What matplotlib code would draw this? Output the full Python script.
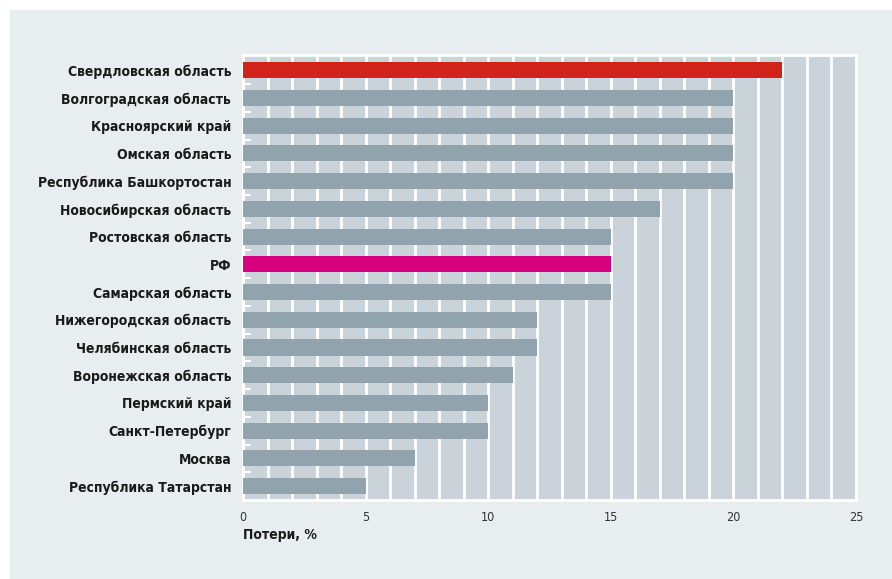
import matplotlib.pyplot as plt
import matplotlib.patches as patches
import numpy as np

regions = ["Свердловская область", "Волгоградская область", "Красноярский край",
           "Омская область", "Республика Башкортостан", "Новосибирская область",
           "Ростовская область", "РФ", "Самарская область", "Нижегородская область",
           "Челябинская область", "Воронежская область", "Пермский край",
           "Санкт-Петербург", "Москва", "Республика Татарстан"]
losses = [22, 20, 20, 20, 20, 17, 15, 15, 15, 12, 12, 11, 10, 10, 7, 5]
xticks = [0, 5, 10, 15, 20, 25]

BG = "#e8edf0"
PLOT_BG = "#cbd3da"
BAR = "#91a3ac"
colors = []
for r in regions:
    if r == "Свердловская область":
        colors.append("#d2231b")
    elif r == "РФ":
        colors.append("#d9007f")
    else:
        colors.append(BAR)

fig = plt.figure(figsize=(8.92, 5.79), dpi=100)
fig.patches.append(patches.Rectangle((10 / 892, 0), 1, 1 - 10 / 579,
                                     transform=fig.transFigure, facecolor=BG,
                                     edgecolor="none", zorder=-10))
ax = fig.add_axes([243 / 892, 1 - 500 / 579, 613 / 892, 445 / 579])
ax.set_facecolor(PLOT_BG)

y = np.arange(len(regions))
ax.barh(y, losses, height=0.58, color=colors, zorder=3)

ax.set_xlim(0, 25)
ax.set_ylim(15.5, -0.55)
ax.set_xticks(xticks)
ax.set_xticks(np.arange(0, 26), minor=True)
ax.grid(axis="x", which="both", color="white", linewidth=2)
ax.set_axisbelow(True)

ax.set_yticks(y)
ax.set_yticklabels(regions, fontsize=10, fontweight="bold", fontstretch="condensed",
                   color="#1a1a1a")
ax.set_yticks(y[:-1] + 0.5, minor=True)
ax.tick_params(axis="y", which="major", length=0, pad=8.5)
ax.tick_params(axis="y", which="minor", direction="in", length=6, width=1.5, color="white")
ax.tick_params(axis="x", which="both", length=0, pad=8, labelsize=9, labelcolor="#333333")
for lab in ax.get_xticklabels():
    lab.set_fontstretch("condensed")

for s in ax.spines.values():
    s.set_color("white")
    s.set_linewidth(2)

ax.text(0, -0.062, "Потери, %", transform=ax.transAxes, ha="left", va="top",
        fontsize=10, fontweight="bold", fontstretch="condensed", color="#1a1a1a")

fig.savefig("out.png", dpi=100)
